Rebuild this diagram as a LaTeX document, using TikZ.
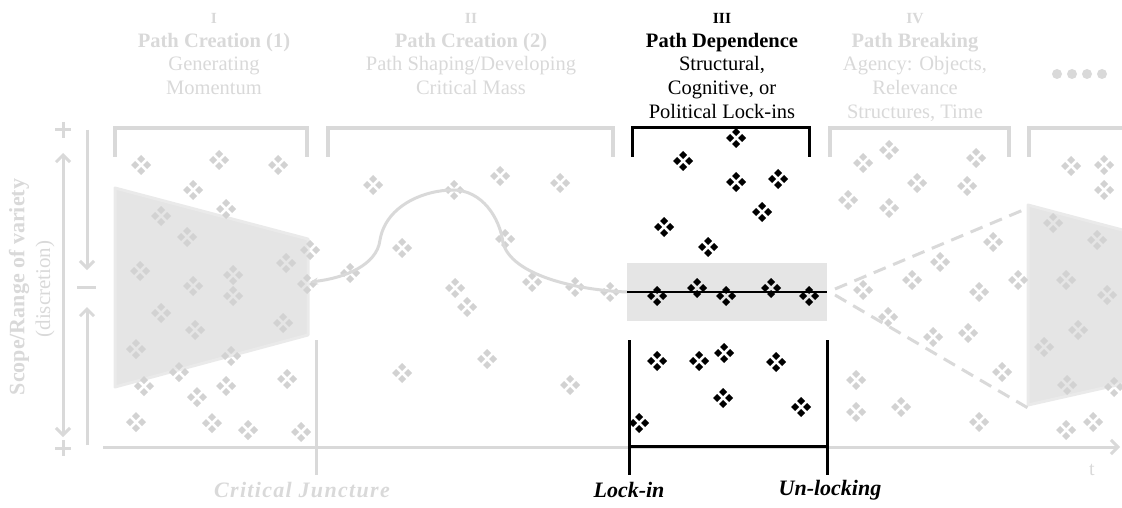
\documentclass[tikz,border=0pt]{standalone}
\usepackage{fontspec}
\setmainfont{Liberation Serif}
\usepackage{tikz}
\usetikzlibrary{positioning}
\usetikzlibrary{calc}
\usetikzlibrary{arrows.meta}
\definecolor{faded}{HTML}{D9D9D9}
\definecolor{gemgray}{HTML}{D2D2D2}
\definecolor{mist}{HTML}{E5E5E5}
\newcommand{\phasenum}[1]{{\bfseries\fontsize{15.5}{16}\selectfont #1}}
\tikzset{
	x=1pt, y=-1pt,
	every node/.style={align=center, inner sep=0pt},
	phase/.style={anchor=north, font=\fontsize{20.5}{23.8}\selectfont, text=faded},
	current/.style={anchor=north, font=\fontsize{20.5}{23.8}\selectfont, text=black},
	bracket/.style={draw=faded, line width=4pt},
	lockbracket/.style={draw=black, line width=3pt},
	axis/.style={draw=faded, line width=3pt},
	barb/.style={-{Straight Barb[length=7pt,width=14pt,line width=3pt]}},
	marker/.style={font=\bfseries\itshape\fontsize{22}{24}\selectfont},
	funnel/.style={fill=mist, draw=mist!80, line width=3pt, line join=round},
	gem/.pic={
		\foreach \dx/\dy in {-6/0,6/0,0/-6,0/6}
			\fill[#1] (\dx-4,\dy) -- (\dx,\dy-4) -- (\dx+4,\dy) -- (\dx,\dy+4) -- cycle;
	}
}

\begin{document}
\begin{tikzpicture}
	\useasboundingbox (0,0) rectangle (1122,508);
	% shaded areas
	\fill[funnel] (115,188) -- (308,239) -- (308,335) -- (115,387) -- cycle;
	\fill[funnel] (1028,205) -- (1130,232) -- (1130,382) -- (1028,405) -- cycle;
	\fill[mist] (627,263) rectangle (827,321);
	
	% scattered elements
	\foreach \x/\y in {141/165, 219/160, 278/165, 193/190, 226/209, 161/216, 187/237, 310/250, 286/263, 140/271, 233/275, 193/286, 233/296, 307/284, 161/313, 195/330, 283/323, 136/349, 231/356, 179/372, 144/386, 226/386, 287/379, 197/397, 136/422, 212/423, 248/430, 301/432,
		373/185, 500/176, 560/183, 454/190, 402/248, 505/239, 350/273, 455/288, 467/307, 532/282, 575/287, 610/292, 487/359, 402/373, 570/385,
		863/163, 889/150, 917/183, 976/158, 967/186, 848/200, 889/208, 1071/166, 1104/165, 1104/190, 1053/223, 993/242, 1097/240, 940/262, 863/290, 912/280, 979/292, 1018/280, 1066/280, 1107/295, 888/317, 933/337, 968/333, 1078/330, 1044/347, 1002/372, 856/380, 1067/385, 1114/387, 856/412, 901/407, 979/422, 1066/430, 1093/422}
		\pic at (\x,\y) {gem=gemgray};
	\foreach \x/\y in {736/138, 683/161, 736/182, 778/179, 762/212, 664/227, 708/247, 657/296, 697/288, 726/296, 771/288, 809/296, 657/361, 699/361, 724/353, 776/362, 723/398, 801/407, 639/423}
		\pic at (\x,\y) {gem=black};
	
	% headers
	\node[phase] (h1) at (214,13) {\phasenum{I}\\\textbf{Path Creation (1)}\\Generating\\Momentum};
	\node[phase] (h2) at (471,13) {\phasenum{II}\\\textbf{Path Creation (2)}\\Path Shaping/Developing\\Critical Mass};
	\node[current] (h3) at (722,13) {\phasenum{III}\\\textbf{Path Dependence}\\Structural,\\Cognitive, or\\Political Lock-ins};
	\node[phase] (h4) at (915,13) {\phasenum{IV}\\\textbf{Path Breaking}\\Agency: Objects,\\Relevance\\Structures, Time};
	\foreach \x in {1057,1072,1087,1102}
		\fill[faded] (\x,74) circle (5);
	
	% brackets
	\draw[bracket] (115,157) |- (307,128) -- (307,157);
	\draw[bracket] (328,157) |- (613,128) -- (613,157);
	\draw[lockbracket] (632,157) |- (809,128) -- (809,157);
	\draw[bracket] (830,157) |- (1009,128) -- (1009,157);
	\draw[bracket] (1029,157) |- (1130,128);
	
	% vertical scale
	\node[rotate=90, text=faded, font=\bfseries\fontsize{22}{24}\selectfont] (scope) at (19,287) {Scope/Range of variety};
	\node[rotate=90, text=faded, font=\fontsize{21}{24}\selectfont] (discretion) at (45,289) {(discretion)};
	\draw[axis] (55,130) -- (71,130) (63,122) -- (63,138);
	\draw[axis] (55,448) -- (71,448) (63,440) -- (63,456);
	\draw[axis, barb] (63,290) -- (63,153);
	\draw[axis, barb] (63,290) -- (63,437);
	\draw[axis, barb] (87,130) -- (87,270);
	\draw[axis] (77,287) -- (96,287);
	\draw[axis, barb] (87,445) -- (87,307);
	
	% time axis
	\draw[axis, barb] (103,447) -- (1120,447);
	\node[text=faded, font=\fontsize{20}{22}\selectfont] (t) at (1092,470) {t};
	
	% trajectory
	\draw[faded, line width=3pt, {Stealth[length=8pt,width=7pt]}-] (310,282) .. controls (345,278) and (377,265) .. (380,240) .. controls (386,205) and (425,190) .. (453,190) .. controls (482,190) and (500,218) .. (503,243) .. controls (512,275) and (575,290) .. (627,292);
	\draw[black, line width=2.5pt] (627,292) -- (827,292);
	\draw[faded, line width=3pt, dash pattern=on 13pt off 8pt] (835,289) -- (1028,208);
	\draw[faded, line width=3pt, dash pattern=on 13pt off 8pt] (835,295) -- (1028,408);
	
	% junctures
	\draw[axis] (316,340) -- (316,475);
	\draw[lockbracket] (629,340) -- (629,475);
	\draw[lockbracket] (827,340) -- (827,475);
	\draw[lockbracket] (629,446) -- (827,446);
	\node[marker, text=faded] (juncture) at (302,490) {\addfontfeatures{LetterSpace=6}Critical Juncture};
	\node[marker] (lockin) at (629,490) {Lock-in};
	\node[marker] (unlock) at (830,490) {Un-locking};
\end{tikzpicture}
\end{document}
